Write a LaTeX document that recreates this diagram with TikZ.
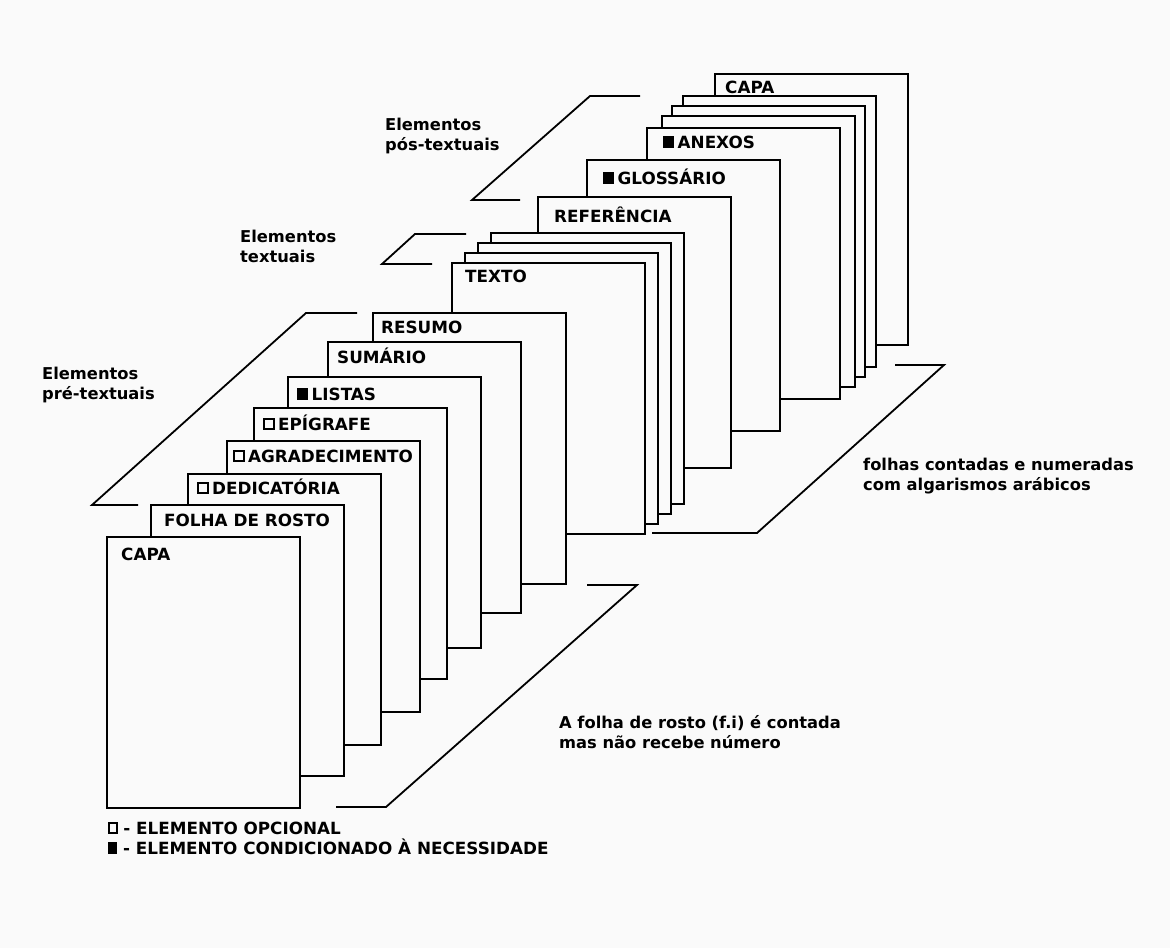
\documentclass[tikz,border=0pt]{standalone}
\usepackage{fontspec}
\setmainfont{DejaVu Sans}
\definecolor{bg}{RGB}{250,250,250}
\newcommand{\opbox}{{\setlength{\fboxsep}{0pt}\setlength{\fboxrule}{1.9pt}\raisebox{1.9pt}{\fbox{\rule{0pt}{8.4pt}\rule{8.2pt}{0pt}}}}}
\newcommand{\legopbox}{{\setlength{\fboxsep}{0pt}\setlength{\fboxrule}{1.9pt}\raisebox{1.9pt}{\fbox{\rule{0pt}{8.4pt}\rule{5.5pt}{0pt}}}}}
\newcommand{\cdbox}{\rule{10.5pt}{12pt}}
\newcommand{\legcdbox}{\rule{9pt}{12pt}}
\begin{document}
\begin{tikzpicture}[x=1pt,y=-1pt,
  page/.style={draw=black, fill=bg, line width=1.8pt, minimum width=193pt, minimum height=271pt, anchor=north west, inner sep=0pt, outer sep=0pt},
  lbl/.style={anchor=base west, inner sep=0pt, font=\bfseries\fontsize{16.8}{20}\selectfont},
  note/.style={anchor=base west, inner sep=0pt, align=left, font=\bfseries\fontsize{16.3}{20}\selectfont},
  brk/.style={draw=black, line width=1.8pt, line join=miter}
]
\fill[bg] (0,0) rectangle (1170,948);
\useasboundingbox (0,0) rectangle (1170,948);

% post-textual group (back)
\node[page] (capaB) at (715,74) {};
\node[page] (pb3) at (683,96) {};
\node[page] (pb2) at (672,106) {};
\node[page] (pb1) at (662,116) {};
\node[page] (anexos) at (647,128) {};
\node[page] (gloss) at (587,160) {};
\node[page] (refer) at (538,197) {};
% textual group
\node[page] (pt3) at (491,233) {};
\node[page] (pt2) at (478,243) {};
\node[page] (pt1) at (465,253) {};
\node[page] (texto) at (452,263) {};
% pre-textual group (front)
\node[page] (resumo) at (373,313) {};
\node[page] (sumario) at (328,342) {};
\node[page] (listas) at (288,377) {};
\node[page] (epigrafe) at (254,408) {};
\node[page] (agrad) at (227,441) {};
\node[page] (dedic) at (188,474) {};
\node[page] (folha) at (151,505) {};
\node[page] (capa) at (107,537) {};

% page labels
\node[lbl] (lcapaB) at ([shift={(10,19)}]capaB.north west) {CAPA};
\node[lbl] (lanexos) at ([shift={(16,20)}]anexos.north west) {\cdbox\hspace{4pt}ANEXOS};
\node[lbl] (lgloss) at ([shift={(16,24)}]gloss.north west) {\cdbox\hspace{4pt}GLOSSÁRIO};
\node[lbl] (lrefer) at ([shift={(16,25)}]refer.north west) {REFERÊNCIA};
\node[lbl] (ltexto) at ([shift={(13,19)}]texto.north west) {TEXTO};
\node[lbl] (lresumo) at ([shift={(8,20)}]resumo.north west) {RESUMO};
\node[lbl] (lsumario) at ([shift={(9,21)}]sumario.north west) {SUMÁRIO};
\node[lbl] (llistas) at ([shift={(9,23)}]listas.north west) {\cdbox\hspace{4pt}LISTAS};
\node[lbl] (lepigrafe) at ([shift={(9,22)}]epigrafe.north west) {\opbox\hspace{3pt}EPÍGRAFE};
\node[lbl] (lagrad) at ([shift={(6,21)}]agrad.north west) {\opbox\hspace{3pt}AGRADECIMENTO};
\node[lbl] (ldedic) at ([shift={(9,20)}]dedic.north west) {\opbox\hspace{3pt}DEDICATÓRIA};
\node[lbl] (lfolha) at ([shift={(13,21)}]folha.north west) {FOLHA DE ROSTO};
\node[lbl] (lcapa) at ([shift={(14,23)}]capa.north west) {CAPA};

% brackets
\draw[brk] (357,313) -- (306,313) -- (92,505) -- (138,505);
\draw[brk] (587,585) -- (637,585) -- (386,807) -- (336,807);
\draw[brk] (466,234) -- (415,234) -- (382,264) -- (432,264);
\draw[brk] (640,96) -- (590,96) -- (472,200) -- (520,200);
\draw[brk] (895,365) -- (944,365) -- (757,533) -- (652,533);

% notes (base anchor = baseline of the last line)
\node[note] (npre) at (42,399) {Elementos\\pré-textuais};
\node[note] (ntext) at (240,262) {Elementos\\textuais};
\node[note] (npos) at (385,150) {Elementos\\pós-textuais};
\node[note] (nfolhas) at (863,490) {folhas contadas e numeradas\\com algarismos arábicos};
\node[note] (nrosto) at (559,748) {A folha de rosto (f.i) é contada\\mas não recebe número};
\node[note, font=\bfseries\fontsize{16.8}{20}\selectfont] (legend) at (108,854) {\legopbox\ - ELEMENTO OPCIONAL\\\legcdbox\ - ELEMENTO CONDICIONADO À NECESSIDADE};
\end{tikzpicture}
\end{document}
